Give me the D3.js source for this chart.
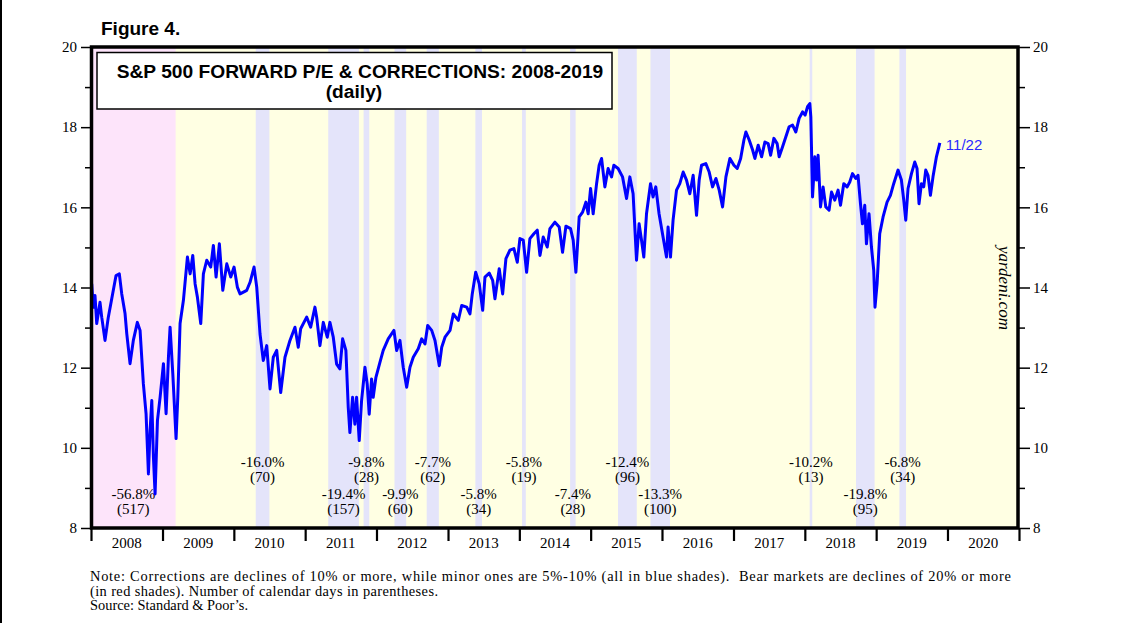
<!DOCTYPE html>
<html><head><meta charset="utf-8">
<script src="https://cdn.jsdelivr.net/npm/d3@7"></script>
<style>
html,body{margin:0;padding:0;background:#fff;}
svg{display:block;}
</style></head>
<body>
<svg id="chart" width="1146" height="623"></svg>
<script>
// ---------------- DATA ----------------
// Forward P/E (decimal year, value)
const peYear = [
2008.010,2008.032,2008.056,2008.080,2008.126,2008.150,2008.196,2008.242,2008.290,2008.350,2008.396,2008.430,2008.476,2008.500,2008.546,2008.592,2008.648,2008.686,2008.732,2008.770,2008.803,2008.826,2008.850,2008.873,2008.896,2008.929,2008.966,
2009.013,2009.050,2009.083,2009.106,2009.144,2009.190,2009.214,2009.246,2009.293,2009.349,2009.387,2009.424,2009.457,2009.489,2009.536,2009.573,2009.620,2009.676,2009.713,2009.751,2009.797,2009.845,2009.901,2009.957,
2010.003,2010.049,2010.087,2010.181,2010.227,2010.283,2010.321,2010.367,2010.413,2010.461,2010.507,2010.553,2010.601,2010.657,2010.717,2010.787,2010.857,2010.903,2010.937,
2011.021,2011.077,2011.137,2011.161,2011.207,2011.254,2011.310,2011.347,2011.394,2011.441,2011.487,2011.525,2011.571,2011.604,2011.627,2011.665,2011.697,2011.721,2011.758,2011.791,2011.838,2011.870,2011.898,2011.931,2011.954,2011.992,
2012.048,2012.094,2012.164,2012.244,2012.282,2012.328,2012.374,2012.422,2012.468,2012.514,2012.584,2012.632,2012.678,2012.716,2012.772,2012.818,2012.878,2012.912,2012.958,
2013.028,2013.074,2013.144,2013.192,2013.262,2013.308,2013.340,2013.388,2013.438,2013.486,2013.518,2013.578,2013.626,2013.658,2013.718,2013.766,2013.812,2013.868,2013.924,2013.971,
2014.008,2014.055,2014.102,2014.148,2014.204,2014.251,2014.289,2014.335,2014.391,2014.429,2014.499,2014.559,2014.606,2014.653,2014.718,2014.755,2014.793,2014.839,2014.887,2014.933,2014.965,2014.999,
2015.035,2015.083,2015.119,2015.153,2015.199,2015.245,2015.293,2015.325,2015.385,2015.447,2015.503,2015.549,2015.595,2015.643,2015.679,2015.713,2015.745,2015.783,2015.839,2015.875,2015.913,2015.959,
2016.015,2016.063,2016.085,2016.119,2016.155,2016.203,2016.249,2016.296,2016.343,2016.389,2016.436,2016.483,2016.520,2016.553,2016.613,2016.660,2016.707,2016.754,2016.800,2016.847,2016.894,2016.950,
2017.006,2017.052,2017.100,2017.146,2017.174,2017.220,2017.268,2017.300,2017.346,2017.394,2017.440,2017.486,2017.520,2017.566,2017.612,2017.640,2017.688,2017.734,2017.780,2017.828,2017.874,2017.920,2017.968,
2018.004,2018.038,2018.070,2018.084,2018.108,2018.140,2018.164,2018.186,2018.220,2018.256,2018.294,2018.340,2018.374,2018.420,2018.466,2018.500,2018.546,2018.592,2018.630,2018.668,2018.714,2018.746,2018.780,2018.808,2018.840,2018.864,2018.900,2018.934,2018.966,2018.984,
2019.013,2019.050,2019.097,2019.153,2019.200,2019.246,2019.307,2019.354,2019.387,2019.415,2019.447,2019.495,2019.541,2019.573,2019.601,2019.635,2019.667,2019.695,2019.727,2019.761,2019.797,2019.845,2019.893
];
const peValue = [
14.09,13.51,13.80,13.10,13.63,13.26,12.68,13.26,13.72,14.30,14.34,13.84,13.35,12.85,12.10,12.68,13.13,12.93,11.60,10.85,9.35,10.43,11.18,9.76,8.85,10.68,11.26,
12.10,10.85,12.26,13.01,11.85,10.23,11.26,13.10,13.68,14.76,14.34,14.80,14.09,13.76,13.10,14.34,14.68,14.51,15.05,14.26,15.09,13.93,14.59,14.26,
14.51,14.01,13.84,13.93,14.13,14.51,14.01,12.84,12.18,12.55,11.47,12.26,12.43,11.38,12.26,12.68,13.01,12.51,12.97,
13.26,13.01,13.51,13.26,12.55,13.13,12.76,13.13,12.76,12.09,11.97,12.72,12.43,11.01,10.38,11.26,10.59,11.26,10.18,11.18,12.01,11.59,10.84,11.72,11.26,11.76,
12.13,12.43,12.72,12.93,12.43,12.68,12.01,11.51,12.01,12.26,12.47,12.72,12.59,13.05,12.93,12.68,12.05,12.51,12.76,
12.93,13.34,13.18,13.55,13.51,13.34,13.84,14.38,14.09,13.43,14.26,14.36,14.18,13.72,14.47,13.84,14.72,14.93,14.97,14.63,
15.22,15.18,14.38,15.22,15.34,15.43,14.80,15.26,15.01,15.47,15.63,15.51,14.88,15.53,15.47,15.18,14.38,15.76,15.88,16.13,15.84,16.47,
15.84,16.59,17.05,17.22,16.51,16.97,16.76,17.05,16.97,16.76,16.22,16.76,16.34,14.68,15.59,15.18,14.76,15.84,16.59,16.26,16.51,15.84,
15.26,14.76,15.51,14.76,15.68,16.43,16.59,16.88,16.68,16.34,16.80,15.80,16.68,17.05,17.09,16.88,16.51,16.72,16.43,16.01,16.76,17.22,
17.05,16.97,17.22,17.68,17.88,17.68,17.43,17.22,17.55,17.26,17.63,17.59,17.30,17.72,17.59,17.26,17.51,17.76,18.01,18.05,17.88,18.22,18.38,
18.30,18.51,18.59,18.26,16.26,17.26,16.68,17.30,16.01,16.51,16.01,15.93,16.38,16.18,16.43,16.05,16.59,16.51,16.63,16.84,16.72,16.80,16.09,15.59,16.05,15.09,15.84,15.01,14.43,13.51,
14.09,15.34,15.76,16.13,16.30,16.59,16.93,16.68,16.18,15.68,16.47,16.84,17.13,16.97,16.09,16.59,16.51,16.93,16.80,16.30,16.76,17.26,17.61
];

// Market declines: start, end, % change, calendar days, label row, kind
const declStart = ["2007-10-09","2010-04-23","2011-04-29","2011-10-27","2012-04-02","2012-09-14","2013-05-21","2014-01-15","2014-09-18","2015-05-21","2015-11-03","2018-01-26","2018-09-20","2019-04-30"];
const declEnd   = ["2009-03-09","2010-07-02","2011-10-03","2011-11-25","2012-06-01","2012-11-15","2013-06-24","2014-02-03","2014-10-16","2015-08-25","2016-02-11","2018-02-08","2018-12-24","2019-06-03"];
const declPct   = ["-56.8%","-16.0%","-19.4%","-9.8%","-9.9%","-7.7%","-5.8%","-5.8%","-7.4%","-12.4%","-13.3%","-10.2%","-19.8%","-6.8%"];
const declDays  = [517,70,157,28,60,62,34,19,28,96,100,13,95,34];
const declRow   = ["low","up","low","up","low","up","low","up","low","up","low","up","low","up"];
const declKind  = ["bear","corr","corr","corr","corr","corr","corr","corr","corr","corr","corr","corr","corr","corr"];

const yearLabels = ["2008","2009","2010","2011","2012","2013","2014","2015","2016","2017","2018","2019","2020"];
const yTicks = [8,10,12,14,16,18,20];
const yMinor = [9,11,13,15,17,19];

const titleLine1 = "S&P 500 FORWARD P/E & CORRECTIONS: 2008-2019";
const titleLine2 = "(daily)";
const lastLabel = "11/22";
const noteLines = [
 "Note: Corrections are declines of 10% or more, while minor ones are 5%-10% (all in blue shades).  Bear markets are declines of 20% or more",
 "(in red shades). Number of calendar days in parentheses.",
 "Source: Standard & Poor\u2019s."
];

// ---------------- CHART ----------------
const svg = d3.select("#chart");
const L = 91, R = 1019, T = 47, B = 528;
const parse = d3.timeParse("%Y-%m-%d");
const d0 = new Date(2008,0,1), d1 = new Date(2021,0,1);
const x = d3.scaleTime().domain([d0,d1]).range([L,R]);
const y = d3.scaleLinear().domain([8,20]).range([B,T]);
const decToDate = v => { const yr=Math.floor(v); const s=new Date(yr,0,1), e=new Date(yr+1,0,1); return new Date(+s + (v-yr)*(e-s)); };

const serif = "'Liberation Serif','Times New Roman',serif";
const sans = "'Liberation Sans',Arial,sans-serif";

// left page edge line
svg.append("rect").attr("x",0).attr("y",0).attr("width",2).attr("height",623).attr("fill","#000");

// background (yellow)
svg.append("rect").attr("x",L).attr("y",T).attr("width",R-L).attr("height",B-T).attr("fill","#ffffe3");

// bands
const bands = declStart.map((s,i)=>({s:parse(s),e:parse(declEnd[i]),pct:declPct[i],days:declDays[i],row:declRow[i],kind:declKind[i]}));
bands.forEach(b=>{ b.cs = b.s<d0?d0:b.s; });
svg.append("g").selectAll("rect").data(bands).join("rect")
  .attr("x",d=>x(d.cs)).attr("y",T).attr("width",d=>x(d.e)-x(d.cs)).attr("height",B-T)
  .attr("fill",d=>d.kind==="bear"?"#fde4fa":"#e4e4fa");

// band labels
const lab = svg.append("g").attr("font-family",serif).attr("font-size",15).attr("fill","#000").attr("text-anchor","middle");
bands.forEach(b=>{
  const cx = (x(b.cs)+x(b.e))/2;
  const b1 = b.row==="up"?467:499;
  lab.append("text").attr("x",cx).attr("y",b1).text(b.pct);
  lab.append("text").attr("x",cx).attr("y",b1+14.5).text("("+b.days+")");
});

// line
const pts = peYear.map((t,i)=>({d:decToDate(t),v:peValue[i]}));
svg.append("path").datum(pts)
  .attr("d",d3.line().x(d=>x(d.d)).y(d=>y(d.v)))
  .attr("fill","none").attr("stroke","#0000ff").attr("stroke-width",3).attr("stroke-linejoin","round");

// last value label
const last = pts[pts.length-1];
svg.append("text").attr("x",x(last.d)+6).attr("y",y(last.v)+7)
  .attr("font-family",sans).attr("font-size",15).attr("fill","#2a2aff").text(lastLabel);

// title box
svg.append("rect").attr("x",97).attr("y",52.5).attr("width",515).attr("height",56.5)
  .attr("fill","#fff").attr("stroke","#000").attr("stroke-width",1.5);
svg.append("text").attr("x",360).attr("y",78).attr("text-anchor","middle")
  .attr("font-family",sans).attr("font-weight","bold").attr("font-size",19.2).text(titleLine1);
svg.append("text").attr("x",354).attr("y",97.5).attr("text-anchor","middle")
  .attr("font-family",sans).attr("font-weight","bold").attr("font-size",19.2).text(titleLine2);

// Figure 4.
svg.append("text").attr("x",101).attr("y",34.5).attr("font-family",sans).attr("font-weight","bold")
  .attr("font-size",19).text("Figure 4.");

// frame
svg.append("rect").attr("x",L+0.5).attr("y",T).attr("width",R-L-1.5).attr("height",B-T)
  .attr("fill","none").attr("stroke","#000").attr("stroke-width",3.5);

// left axis
const yl = svg.append("g").attr("transform",`translate(${L},0)`)
  .call(d3.axisLeft(y).tickValues(yTicks).tickSize(10).tickPadding(4).tickFormat(d3.format("d")));
yl.select(".domain").remove();
yl.selectAll("text").attr("font-family",serif).attr("font-size",15).attr("fill","#000");
yl.selectAll("line").attr("stroke-width",1.5);
const ylm = svg.append("g").attr("transform",`translate(${L},0)`)
  .call(d3.axisLeft(y).tickValues(yMinor).tickSize(6).tickFormat(""));
ylm.select(".domain").remove(); ylm.selectAll("line").attr("stroke-width",1.5);

// right axis
const yr = svg.append("g").attr("transform",`translate(${R},0)`)
  .call(d3.axisRight(y).tickValues(yTicks).tickSize(11).tickPadding(3).tickFormat(d3.format("d")));
yr.select(".domain").remove();
yr.selectAll("text").attr("font-family",serif).attr("font-size",15).attr("fill","#000");
yr.selectAll("line").attr("stroke-width",1.5);
const yrm = svg.append("g").attr("transform",`translate(${R},0)`)
  .call(d3.axisRight(y).tickValues(yMinor).tickSize(6).tickFormat(""));
yrm.select(".domain").remove(); yrm.selectAll("line").attr("stroke-width",1.5);

// x axis: year boundary ticks, labels centered in year
const yearStarts = d3.range(2008,2022).map(v=>new Date(v,0,1));
const xa = svg.append("g").attr("transform",`translate(0,${B})`)
  .call(d3.axisBottom(x).tickValues(yearStarts).tickSize(13).tickFormat(""));
xa.select(".domain").remove(); xa.selectAll("line").attr("stroke-width",2.2);
svg.append("g").attr("font-family",serif).attr("font-size",15).attr("text-anchor","middle")
  .selectAll("text").data(yearLabels).join("text")
  .attr("x",d=>(x(new Date(+d,0,1))+x(new Date(+d+1,0,1)))/2).attr("y",548).text(d=>d);

// yardeni.com
svg.append("text").attr("transform","translate(999,288) rotate(90)").attr("text-anchor","middle")
  .attr("font-family",serif).attr("font-style","italic").attr("font-size",17).text("yardeni.com");

// notes
const notes = svg.append("g").attr("font-family",serif).attr("font-size",14.4).attr("fill","#000");
notes.selectAll("text").data(noteLines).join("text")
  .attr("x",90).attr("y",(d,i)=>581+i*14.5).style("white-space","pre")
  .attr("textLength",(d,i)=>i===0?921:(i===1?348:null)).attr("lengthAdjust","spacing").text(d=>d);
</script>
</body></html>
